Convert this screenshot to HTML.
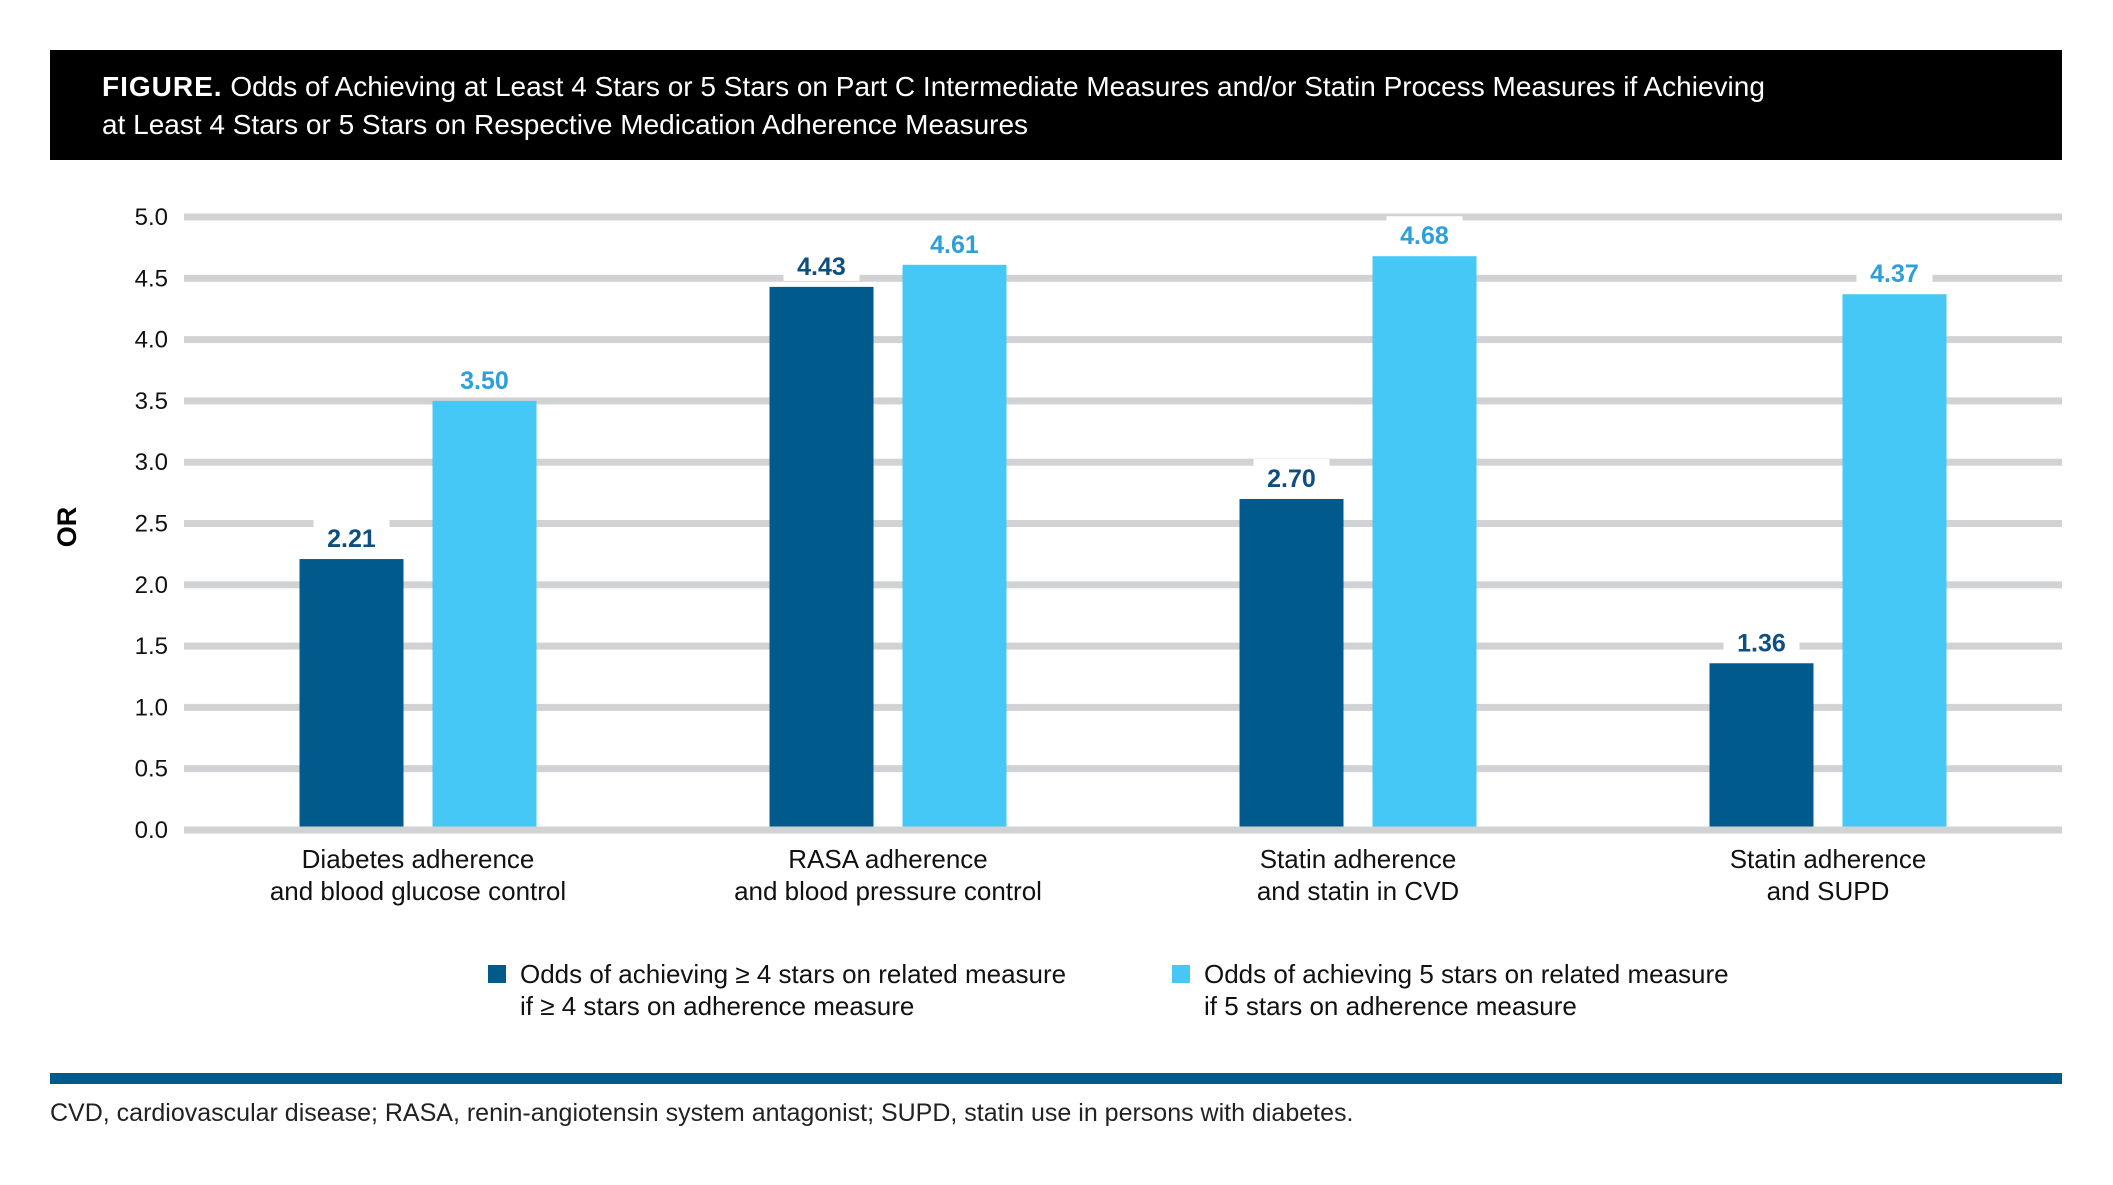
<!DOCTYPE html>
<html><head><meta charset="utf-8"><style>
html,body{margin:0;padding:0;background:#fff;}
body{width:2113px;height:1185px;overflow:hidden;position:relative;font-family:"Liberation Sans Narrow","Liberation Sans",sans-serif;}
#title{position:absolute;left:50px;top:50px;width:2012px;height:110px;background:#000;color:#fff;box-sizing:border-box;padding:18px 0 0 52px;font-size:28px;line-height:38px;}
#title b{letter-spacing:1px;}
#rule{position:absolute;left:50px;top:1073px;width:2012px;height:11px;background:#005a8c;}
#foot{position:absolute;left:50px;top:1099px;font-size:25px;color:#222;}
</style></head><body>
<div id="title"><b>FIGURE.</b> Odds of Achieving at Least 4 Stars or 5 Stars on Part C Intermediate Measures and/or Statin Process Measures if Achieving<br>at Least 4 Stars or 5 Stars on Respective Medication Adherence Measures</div>
<svg id="chart" width="2113" height="1185" style="position:absolute;left:0;top:0"></svg>
<div id="rule"></div>
<div id="foot">CVD, cardiovascular disease; RASA, renin-angiotensin system antagonist; SUPD, statin use in persons with diabetes.</div>
<script>
const categories=[["Diabetes adherence","and blood glucose control"],["RASA adherence","and blood pressure control"],["Statin adherence","and statin in CVD"],["Statin adherence","and SUPD"]];
const series4=[2.21,4.43,2.70,1.36];
const series5=[3.50,4.61,4.68,4.37];
const ticks=[0,0.5,1,1.5,2,2.5,3,3.5,4,4.5,5];
const legendLabels=[["Odds of achieving ≥ 4 stars on related measure","if ≥ 4 stars on adherence measure"],["Odds of achieving 5 stars on related measure","if 5 stars on adherence measure"]];

const NS="http://www.w3.org/2000/svg";
const svg=document.getElementById('chart');
const y0=830,y1=217,vmax=5;
const y=v=>y0-(v/vmax)*(y0-y1);
const groupX=i=>418+i*470;
const bw=104,gap=29;
function el(t,a,txt){const e=document.createElementNS(NS,t);for(const k in a)e.setAttribute(k,a[k]);if(txt!==undefined)e.textContent=txt;svg.appendChild(e);return e;}
const F='"Liberation Sans Narrow","Liberation Sans",sans-serif';
ticks.forEach(t=>{
  const g=el('rect',{x:184,y:y(t)-3.5,width:1878,height:7,fill:'#d1d2d4'});
  
  
  const l=el('text',{x:168,y:y(t)+8,'text-anchor':'end','font-size':24,'font-family':F,fill:'#111'},t.toFixed(1));
  
  
});
const ot=el('text',{x:0,y:0,transform:'translate(76,527) rotate(-90)','text-anchor':'middle','font-size':27,'font-weight':'bold','font-family':F,fill:'#000'},'OR');


function bar(x,v,fill,lc,name){
  const r=el('rect',{x:x,y:y(v),width:bw,height:y0-3.5-y(v),fill:fill});
  
  
  const bg=el('rect',{x:x+bw/2-38,y:y(v)-40,width:76,height:34,fill:'#fff'});
  
  
  const t=el('text',{x:x+bw/2,y:y(v)-12,'text-anchor':'middle','font-size':25,'font-weight':'bold','font-family':F,fill:lc},v.toFixed(2));
  
  
}
categories.forEach((c,i)=>{
  const cx=groupX(i);
  bar(cx-gap/2-bw,series4[i],'#005a8c','#0d4f80','bar-4-stars');
  bar(cx+gap/2,series5[i],'#45c8f5','#2d9fd9','bar-5-stars');
  c.forEach((line,j)=>{
    const t=el('text',{x:cx,y:868+j*32,'text-anchor':'middle','font-size':26,'font-family':F,fill:'#111'},line);
    
    
  });
});
const lx=[488,1172],lc=['#005a8c','#45c8f5'];
legendLabels.forEach((ls,i)=>{
  const s=el('rect',{x:lx[i],y:965,width:18,height:18,fill:lc[i]});
  
  
  ls.forEach((line,j)=>{
    const t=el('text',{x:lx[i]+32,y:983+j*32,'font-size':26,'font-family':F,fill:'#111'},line);
    
    
  });
});
</script>
</body></html>
